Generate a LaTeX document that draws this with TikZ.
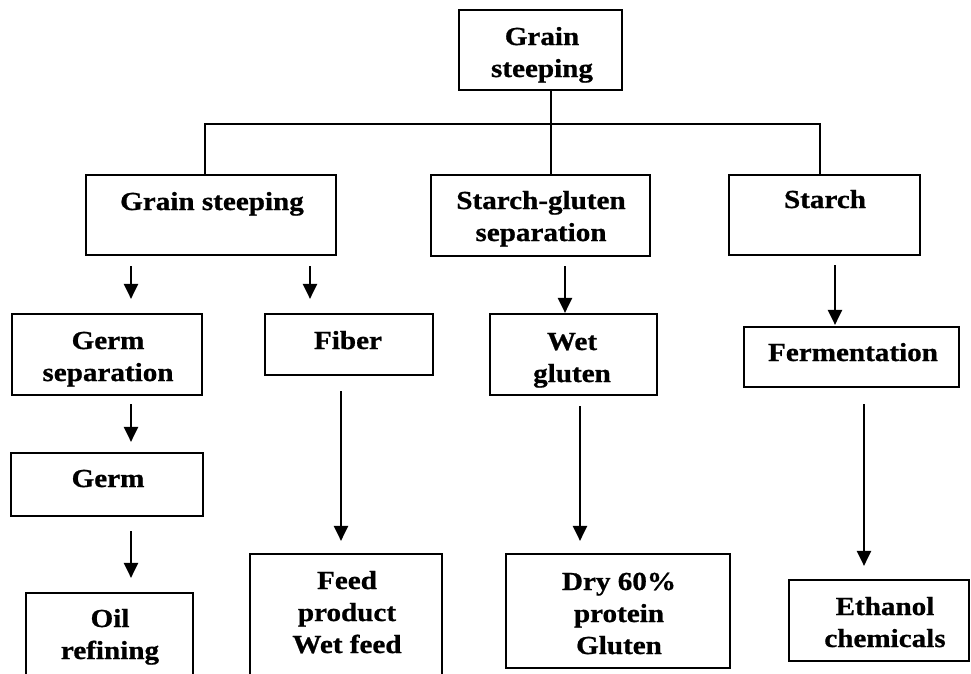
\documentclass[tikz,border=0pt]{standalone}
\usepackage{fontspec}
\setmainfont{Liberation Serif}[FakeStretch=1.12, BoldFeatures={FakeBold=0.8}]
\usetikzlibrary{arrows.meta}
\begin{document}
\begin{tikzpicture}[x=1pt,y=-1pt,
  box/.style={draw, line width=2.2pt, rectangle, inner sep=0pt},
  lbl/.style={font=\fontsize{26}{32}\selectfont\bfseries, align=center, inner sep=0pt, anchor=base},
  link/.style={line width=2.2pt},
  arr/.style={line width=2.2pt, -{Triangle[length=15pt,width=14pt]}}]

\useasboundingbox (0,0) rectangle (971,673);
\fill[white] (0,0) rectangle (971,673);
\clip (0,0) rectangle (971,673);

% boxes
\node[box, minimum width=163pt, minimum height=80pt]  (top)  at (540.5,50)   {};
\node[box, minimum width=250pt, minimum height=80pt]  (gs)   at (211,215)    {};
\node[box, minimum width=219pt, minimum height=81pt]  (sg)   at (540.5,215.5){};
\node[box, minimum width=191pt, minimum height=80pt]  (st)   at (824.5,215)  {};
\node[box, minimum width=190pt, minimum height=81pt]  (gsep) at (107,354.5)  {};
\node[box, minimum width=168pt, minimum height=61pt]  (fib)  at (349,344.5)  {};
\node[box, minimum width=167pt, minimum height=81pt]  (wg)   at (573.5,354.5){};
\node[box, minimum width=215pt, minimum height=60pt]  (fer)  at (851.5,357)  {};
\node[box, minimum width=192pt, minimum height=63pt]  (germ) at (107,484.5)  {};
\node[box, minimum width=167pt, minimum height=107pt] (oil)  at (109.5,646.5){};
\node[box, minimum width=192pt, minimum height=132pt] (feed) at (346,620)    {};
\node[box, minimum width=224pt, minimum height=114pt] (dry)  at (618,611)    {};
\node[box, minimum width=180pt, minimum height=81pt]  (eth)  at (879,620.5)  {};

% labels (placed by the baseline of their last line)
\node[lbl] (topT)  at (542,77)  {Grain\\steeping};
\node[lbl] (gsT)   at (212,210) {Grain steeping};
\node[lbl] (sgT)   at (541,241) {Starch-gluten\\separation};
\node[lbl] (stT)   at (825,208) {Starch};
\node[lbl] (gsepT) at (108,381) {Germ\\separation};
\node[lbl] (fibT)  at (348,349) {Fiber};
\node[lbl] (wgT)   at (572,382) {Wet\\gluten};
\node[lbl] (ferT)  at (853,361) {Fermentation};
\node[lbl] (germT) at (108,487) {Germ};
\node[lbl] (oilT)  at (110,659) {Oil\\refining};
\node[lbl] (feedT) at (347,653) {Feed\\product\\Wet feed};
\node[lbl] (dryT)  at (619,654) {Dry 60\%\\protein\\Gluten};
\node[lbl] (ethT)  at (885,647) {Ethanol\\chemicals};

% branching lines from the top box
\coordinate (stem) at (551,0);
\coordinate (busL) at (205,124);
\coordinate (busR) at (820,124);
\draw[link] (top.south -| stem) -- (sg.north -| stem);
\draw[link] (gs.north -| busL) -- (busL) -- (busR) -- (st.north -| busR);

% arrow columns
\coordinate (c1) at (131,0);
\coordinate (c2) at (310,0);
\coordinate (c3) at (565,0);
\coordinate (c4) at (835,0);
\coordinate (c5) at (341,0);
\coordinate (c6) at (580,0);
\coordinate (c7) at (864,0);

\draw[arr, shorten <=10pt, shorten >=14pt] (gs.south -| c1)   -- (gsep.north -| c1);
\draw[arr, shorten <=10pt, shorten >=14pt] (gs.south -| c2)   -- (fib.north -| c2);
\draw[arr, shorten <=9pt,  shorten >=0pt]  (sg.south -| c3)   -- (wg.north -| c3);
\draw[arr, shorten <=9pt,  shorten >=1pt]  (st.south -| c4)   -- (fer.north -| c4);
\draw[arr, shorten <=8pt,  shorten >=10pt] (gsep.south -| c1) -- (germ.north -| c1);
\draw[arr, shorten <=14pt, shorten >=14pt] (germ.south -| c1) -- (oil.north -| c1);
\draw[arr, shorten <=15pt, shorten >=12pt] (fib.south -| c5)  -- (feed.north -| c5);
\draw[arr, shorten <=10pt, shorten >=12pt] (wg.south -| c6)   -- (dry.north -| c6);
\draw[arr, shorten <=16pt, shorten >=13pt] (fer.south -| c7)  -- (eth.north -| c7);
\end{tikzpicture}
\end{document}
